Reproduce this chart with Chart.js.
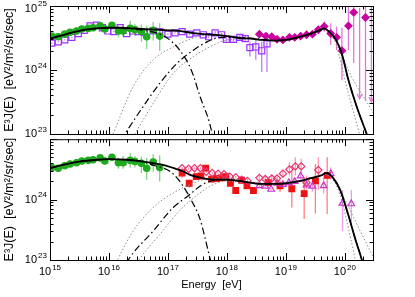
<!DOCTYPE html>
<html>
<head>
<meta charset="utf-8">
<script src="https://cdn.jsdelivr.net/npm/chart.js@4.4.1/dist/chart.umd.min.js"></script>
<style>
	html, body { margin: 0; padding: 0; background: #fff; }
	#wrap { position: relative; width: 415px; height: 297px; overflow: hidden; }
	#top { position: absolute; left: 0; top: 0; }
	#bot { position: absolute; left: 0; top: 134px; }
</style>
</head>
<body>
<div id="wrap">
	<canvas id="top" width="415" height="145"></canvas>
	<canvas id="bot" width="415" height="163"></canvas>
</div>
<script>
// all values are log10: energy in eV, flux as E^3 J(E)

// green circles (both panels)
var kgLogE = [15.03, 15.14, 15.25, 15.34, 15.45, 15.54, 15.65, 15.73, 15.85, 15.93, 16.05, 16.16, 16.24, 16.36, 16.44, 16.55, 16.64, 16.75, 16.86];
var kgLogF = [24.53, 24.52, 24.56, 24.59, 24.61, 24.64, 24.65, 24.66, 24.69, 24.64, 24.70, 24.61, 24.61, 24.65, 24.63, 24.60, 24.52, 24.62, 24.53];
var kgLo = [24.52, 24.51, 24.55, 24.58, 24.60, 24.63, 24.64, 24.65, 24.67, 24.62, 24.67, 24.51, 24.51, 24.53, 24.53, 24.44, 24.33, 24.46, 24.30];
var kgHi = [24.54, 24.53, 24.57, 24.60, 24.62, 24.65, 24.66, 24.67, 24.71, 24.66, 24.73, 24.69, 24.72, 24.77, 24.72, 24.71, 24.69, 24.75, 24.73];

// purple open squares (top)
var psLogE = [15.03, 15.14, 15.25, 15.37, 15.48, 15.58, 15.68, 15.79, 15.89, 15.98, 16.08, 16.19, 16.30, 16.40, 16.50, 16.60, 16.75, 16.86, 17.00, 17.12, 17.24, 17.37, 17.49, 17.60, 17.69, 17.80, 17.91, 17.99, 18.11, 18.22, 18.31, 18.39, 18.49, 18.59, 18.68];
var psLogF = [24.42, 24.44, 24.47, 24.51, 24.57, 24.62, 24.69, 24.70, 24.66, 24.61, 24.60, 24.66, 24.57, 24.61, 24.60, 24.59, 24.61, 24.60, 24.56, 24.58, 24.60, 24.56, 24.58, 24.55, 24.52, 24.58, 24.55, 24.48, 24.48, 24.51, 24.49, 24.35, 24.36, 24.30, 24.41];
var psLo = [24.41, 24.43, 24.46, 24.50, 24.56, 24.61, 24.68, 24.69, 24.65, 24.60, 24.59, 24.65, 24.56, 24.60, 24.59, 24.58, 24.60, 24.59, 24.55, 24.57, 24.59, 24.55, 24.57, 24.53, 24.50, 24.55, 24.52, 24.44, 24.44, 24.46, 24.44, 24.21, 24.16, 23.97, 23.97];
var psHi = [24.43, 24.45, 24.48, 24.52, 24.58, 24.63, 24.70, 24.71, 24.67, 24.62, 24.61, 24.67, 24.58, 24.62, 24.61, 24.60, 24.62, 24.61, 24.57, 24.59, 24.61, 24.57, 24.59, 24.57, 24.54, 24.61, 24.58, 24.52, 24.52, 24.56, 24.54, 24.44, 24.47, 24.44, 24.58];

// magenta filled diamonds (top)
var auLogE = [18.55, 18.66, 18.76, 18.85, 18.95, 19.06, 19.15, 19.25, 19.35, 19.45, 19.55, 19.65, 19.76, 19.86, 19.95, 20.06, 20.15, 20.35];
var auLogF = [24.56, 24.53, 24.52, 24.48, 24.47, 24.51, 24.51, 24.53, 24.55, 24.56, 24.63, 24.68, 24.57, 24.51, 24.30, 24.69, 24.90, 24.82];
var auLo = [24.53, 24.50, 24.50, 24.46, 24.45, 24.49, 24.49, 24.51, 24.52, 24.53, 24.58, 24.60, 24.39, 24.31, 23.84, 24.31, 24.11, 23.53];
var auHi = [24.59, 24.56, 24.54, 24.50, 24.49, 24.53, 24.53, 24.55, 24.58, 24.60, 24.68, 24.76, 24.73, 24.68, 24.66, 24.99, 25.10, 24.99];
// upper limits (arrow tips)
var auLimE = [20.25, 20.45];
var auLimF = [23.55, 23.50];
var auLimTop = [24.97, 25.10];

// red filled squares (bottom)
var rdLogE = [17.24, 17.36, 17.48, 17.56, 17.64, 17.74, 17.83, 17.91, 17.98, 18.06, 18.15, 18.25, 18.34, 18.45, 18.70, 18.90, 19.10, 19.31, 19.50, 19.70];
var rdLogF = [24.44, 24.27, 24.38, 24.39, 24.52, 24.34, 24.35, 24.36, 24.38, 24.27, 24.15, 24.32, 24.23, 24.15, 24.28, 24.23, 24.18, 24.10, 24.31, 24.40];
var rdLo = [24.36, 24.20, 24.34, 24.35, 24.48, 24.31, 24.32, 24.33, 24.35, 24.23, 24.09, 24.28, 24.19, 24.10, 24.22, 24.12, 23.87, 23.68, 23.77, 23.76];
var rdHi = [24.52, 24.33, 24.42, 24.43, 24.56, 24.37, 24.38, 24.39, 24.41, 24.31, 24.21, 24.36, 24.27, 24.20, 24.34, 24.32, 24.46, 24.38, 24.59, 24.70];

// pink open diamonds (bottom)
var hrLogE = [17.24, 17.35, 17.45, 17.55, 17.65, 17.75, 17.85, 17.95, 18.05, 18.15, 18.25, 18.35, 18.55, 18.65, 18.76, 18.85, 18.95, 19.06, 19.16, 19.26, 19.35, 19.55];
var hrLogF = [24.52, 24.51, 24.52, 24.52, 24.46, 24.44, 24.43, 24.42, 24.38, 24.37, 24.33, 24.31, 24.36, 24.34, 24.35, 24.35, 24.43, 24.50, 24.55, 24.55, 24.28, 24.49];
var hrLo = [24.50, 24.49, 24.50, 24.50, 24.44, 24.42, 24.41, 24.40, 24.36, 24.35, 24.31, 24.28, 24.32, 24.30, 24.30, 24.29, 24.36, 24.40, 24.40, 24.42, 24.18, 24.16];
var hrHi = [24.54, 24.53, 24.54, 24.54, 24.48, 24.46, 24.45, 24.44, 24.40, 24.39, 24.35, 24.34, 24.40, 24.38, 24.40, 24.41, 24.50, 24.62, 24.70, 24.68, 24.40, 24.70];

// magenta open triangles (bottom)
var taLogE = [18.55, 18.65, 18.75, 18.85, 18.95, 19.05, 19.15, 19.25, 19.35, 19.45, 19.64, 19.76, 19.96, 20.11];
var taLogF = [24.23, 24.22, 24.17, 24.27, 24.25, 24.28, 24.30, 24.39, 24.24, 24.22, 24.23, 24.43, 23.94, 23.93];
var taLo = [24.21, 24.20, 24.15, 24.24, 24.22, 24.25, 24.26, 24.33, 24.17, 24.13, 24.10, 24.33, 23.48, 23.63];
var taHi = [24.25, 24.24, 24.19, 24.30, 24.28, 24.31, 24.34, 24.45, 24.31, 24.31, 24.36, 24.53, 24.16, 24.16];

// model curves, top panel
var tTotE = [15.0, 15.2, 15.4, 15.6, 15.8, 16.0, 16.2, 16.4, 16.6, 16.8, 17.0, 17.2, 17.4, 17.6, 17.8, 18.0, 18.2, 18.4, 18.6, 18.8, 19.0, 19.2, 19.4, 19.55, 19.65, 19.75, 19.85, 19.95, 20.05, 20.2, 20.37, 20.48];
var tTotF = [24.49, 24.54, 24.59, 24.63, 24.65, 24.66, 24.66, 24.65, 24.64, 24.63, 24.62, 24.61, 24.58, 24.56, 24.55, 24.53, 24.50, 24.49, 24.47, 24.46, 24.47, 24.51, 24.56, 24.61, 24.65, 24.58, 24.47, 24.25, 23.88, 23.43, 23.0, 22.7];
var tGalE = [15.0, 15.2, 15.4, 15.6, 15.8, 16.0, 16.2, 16.4, 16.6, 16.8, 17.0, 17.2, 17.4, 17.55, 17.7, 17.8];
var tGalF = [24.49, 24.54, 24.59, 24.63, 24.65, 24.66, 24.65, 24.64, 24.62, 24.58, 24.49, 24.31, 23.99, 23.57, 23.19, 22.8];
var tExgE = [16.2, 16.27, 16.58, 16.86, 17.15, 17.43, 17.66, 17.9, 18.2, 18.4, 18.6, 18.8, 19.0, 19.2, 19.4, 19.55, 19.65, 19.75, 19.85, 19.95, 20.05, 20.2, 20.37, 20.48];
var tExgF = [22.9, 23.0, 23.43, 23.79, 24.10, 24.31, 24.44, 24.51, 24.51, 24.50, 24.48, 24.46, 24.47, 24.51, 24.56, 24.61, 24.65, 24.58, 24.47, 24.25, 23.88, 23.43, 23.0, 22.7];
var tDotAE = [16.0, 16.07, 16.41, 16.75, 17.09, 17.43, 17.66, 18.0, 18.4, 18.8, 19.2, 19.5, 19.65, 19.75, 19.85, 20.03, 20.23, 20.3];
var tDotAF = [22.85, 23.0, 23.74, 24.16, 24.36, 24.50, 24.55, 24.53, 24.49, 24.46, 24.51, 24.59, 24.64, 24.57, 24.40, 23.74, 23.06, 22.8];
var tDotBE = [16.35, 16.44, 16.75, 17.09, 17.43, 17.71, 18.0, 18.4, 18.8, 19.2, 19.5, 19.65, 19.75, 19.85, 20.11, 20.45, 20.48];
var tDotBF = [22.85, 23.0, 23.48, 23.95, 24.21, 24.36, 24.47, 24.49, 24.46, 24.51, 24.59, 24.64, 24.58, 24.44, 23.90, 23.38, 23.33];

// model curves, bottom panel
var bTotE = [15.0, 15.2, 15.5, 15.8, 16.0, 16.3, 16.5, 16.7, 16.9, 17.1, 17.25, 17.4, 17.6, 17.8, 18.0, 18.2, 18.4, 18.6, 18.8, 19.0, 19.2, 19.4, 19.6, 19.69, 19.8, 19.92, 20.06, 20.17, 20.28, 20.35];
var bTotF = [24.52, 24.57, 24.63, 24.66, 24.67, 24.66, 24.64, 24.61, 24.58, 24.52, 24.47, 24.40, 24.35, 24.33, 24.33, 24.31, 24.28, 24.26, 24.26, 24.27, 24.30, 24.35, 24.40, 24.44, 24.36, 24.16, 23.74, 23.37, 23.03, 22.8];
var bGalE = [15.0, 15.2, 15.5, 15.8, 16.0, 16.3, 16.5, 16.78, 17.06, 17.26, 17.40, 17.54, 17.71, 17.8];
var bGalF = [24.52, 24.57, 24.63, 24.66, 24.67, 24.66, 24.64, 24.56, 24.45, 24.22, 23.98, 23.69, 23.04, 22.7];
var bExgE = [16.3, 16.36, 16.75, 17.09, 17.34, 17.57, 17.74, 17.97, 18.2, 18.4, 18.6, 18.8, 19.0, 19.2, 19.4, 19.6, 19.69, 19.8, 19.92, 20.06, 20.17, 20.28, 20.35];
var bExgF = [22.95, 23.05, 23.48, 23.87, 24.06, 24.24, 24.31, 24.33, 24.31, 24.28, 24.26, 24.26, 24.27, 24.30, 24.35, 24.40, 24.44, 24.36, 24.16, 23.74, 23.37, 23.03, 22.8];
var bDotAE = [16.1, 16.16, 16.41, 16.75, 17.09, 17.43, 17.71, 18.0, 18.4, 18.8, 19.2, 19.6, 19.69, 19.85, 19.97, 20.1, 20.17, 20.22];
var bDotAF = [22.9, 23.03, 23.48, 23.87, 24.11, 24.27, 24.35, 24.35, 24.29, 24.27, 24.31, 24.41, 24.43, 24.25, 23.90, 23.35, 23.03, 22.8];
var bDotBE = [16.45, 16.53, 16.86, 17.20, 17.54, 17.71, 18.0, 18.4, 18.8, 19.2, 19.6, 19.69, 19.85, 20.0, 20.2, 20.48];
var bDotBF = [22.9, 23.03, 23.42, 23.82, 24.11, 24.22, 24.31, 24.28, 24.25, 24.29, 24.39, 24.42, 24.25, 24.00, 23.60, 23.05];

var FONT = '"Liberation Sans", Arial, Helvetica, sans-serif';

function pts(logE, logF) {
	return logE.map(function (e, i) {
		return { x: Math.pow(10, e), y: Math.pow(10, logF[i]) };
	});
}

function curve(logE, logF, color, width, dash) {
	return {
		data: pts(logE, logF),
		borderColor: color,
		borderWidth: width,
		borderDash: dash || [],
		pointRadius: 0,
		cubicInterpolationMode: 'monotone',
		fill: false,
		order: 0
	};
}

function marks(logE, logF, lo, hi, style, radius, fillCol, lineCol, errCol) {
	return {
		data: pts(logE, logF),
		showLine: false,
		pointStyle: style,
		pointRadius: radius,
		pointBackgroundColor: fillCol,
		pointBorderColor: lineCol,
		pointBorderWidth: 1.2,
		errLo: lo,
		errHi: hi,
		errColor: errCol,
		order: 1
	};
}

// vertical error bars, drawn under the markers
var errorBars = {
	id: 'errorBars',
	beforeDatasetsDraw: function (chart) {
		var ctx = chart.ctx, a = chart.chartArea;
		var xs = chart.scales.x, ys = chart.scales.y;
		ctx.save();
		ctx.beginPath();
		ctx.rect(a.left, a.top, a.right - a.left, a.bottom - a.top);
		ctx.clip();
		chart.data.datasets.forEach(function (ds) {
			if (!ds.errLo) return;
			ctx.strokeStyle = ds.errColor;
			ctx.lineWidth = 1.3;
			ds.data.forEach(function (p, i) {
				var x = xs.getPixelForValue(p.x);
				var y1 = ys.getPixelForValue(Math.pow(10, ds.errLo[i]));
				var y2 = ys.getPixelForValue(Math.pow(10, ds.errHi[i]));
				ctx.beginPath();
				ctx.moveTo(x, y1);
				ctx.lineTo(x, y2);
				if (ds.arrow) {
					ctx.moveTo(x - 2.5, y1 - 5);
					ctx.lineTo(x, y1);
					ctx.lineTo(x + 2.5, y1 - 5);
				}
				ctx.stroke();
			});
		});
		ctx.restore();
	}
};

function powLabel(ctx, x, y, exp, align) {
	ctx.font = '11px ' + FONT;
	var w1 = ctx.measureText('10').width;
	ctx.font = '8px ' + FONT;
	var w2 = ctx.measureText(String(exp)).width;
	var x0 = align === 'right' ? x - w1 - w2 - 1 : x - (w1 + w2 + 1) / 2;
	ctx.textAlign = 'left';
	ctx.textBaseline = 'middle';
	ctx.font = '11px ' + FONT;
	ctx.fillText('10', x0, y);
	ctx.font = '8px ' + FONT;
	ctx.fillText(String(exp), x0 + w1 + 1, y - 4.5);
}

// box, inward ticks on all four sides, power-of-ten labels
var frame = {
	id: 'frame',
	afterDraw: function (chart, args, opts) {
		var ctx = chart.ctx, a = chart.chartArea;
		var xs = chart.scales.x, ys = chart.scales.y;
		var d, m, v, p, len;
		ctx.save();
		ctx.strokeStyle = '#000';
		ctx.lineWidth = 1;
		ctx.strokeRect(a.left + 0.5, a.top + 0.5, a.right - a.left, a.bottom - a.top);
		ctx.beginPath();
		for (d = 15; d <= 20; d++) {
			for (m = 1; m <= 9; m++) {
				v = m * Math.pow(10, d);
				if (v > xs.max * 1.001) break;
				p = Math.round(xs.getPixelForValue(v)) + 0.5;
				len = m === 1 ? 7 : 3.5;
				ctx.moveTo(p, a.bottom);
				ctx.lineTo(p, a.bottom - len);
				ctx.moveTo(p, a.top);
				ctx.lineTo(p, a.top + len);
			}
		}
		for (d = 23; d <= 25; d++) {
			for (m = 1; m <= 9; m++) {
				v = m * Math.pow(10, d);
				if (v > ys.max * 1.001) break;
				p = Math.round(ys.getPixelForValue(v)) + 0.5;
				len = m === 1 ? 7 : 3.5;
				ctx.moveTo(a.left, p);
				ctx.lineTo(a.left + len, p);
				ctx.moveTo(a.right, p);
				ctx.lineTo(a.right - len, p);
			}
		}
		ctx.stroke();

		ctx.fillStyle = '#000';
		opts.yLabels.forEach(function (e) {
			var y = ys.getPixelForValue(Math.pow(10, e));
			y = Math.min(Math.max(y, a.top + 2.5), a.bottom + 0.5);
			powLabel(ctx, a.left - 3, y, e, 'right');
		});
		opts.xLabels.forEach(function (e) {
			powLabel(ctx, xs.getPixelForValue(Math.pow(10, e)), a.bottom + 12, e, 'center');
		});
		ctx.restore();
	}
};

function yAxis() {
	return {
		type: 'logarithmic',
		min: 1e23,
		max: 1e25,
		position: 'left',
		ticks: { display: false },
		grid: { display: false },
		border: { display: false },
		title: {
			display: true,
			text: 'E\u00B3J(E)  [eV\u00B2/m\u00B2/sr/sec]',
			color: '#000',
			font: { family: FONT, size: 12.5 },
			padding: { top: 2, bottom: 0 }
		},
		afterFit: function (s) { s.width = 50; }
	};
}

function start() {
	var topSets = [
		curve(tTotE, tTotF, '#000', 1.8),
		curve(tGalE, tGalF, '#000', 1.2, [7, 3, 1.5, 3]),
		curve(tExgE, tExgF, '#000', 1.2, [7, 3, 1.5, 3]),
		curve(tDotAE, tDotAF, '#8c8c8c', 1, [1.5, 2]),
		curve(tDotBE, tDotBF, '#8c8c8c', 1, [1.5, 2]),
		marks(kgLogE, kgLogF, kgLo, kgHi, 'circle', 3.2, '#1faa1f', '#1faa1f', '#7fd67f'),
		marks(psLogE, psLogF, psLo, psHi, 'rect', 4.3, 'rgba(0,0,0,0)', '#9b30ff', '#c07cff'),
		marks(auLogE, auLogF, auLo, auHi, 'rectRot', 3.6, '#c8009e', '#c8009e', '#e07ad8'),
		{
			data: pts(auLimE, auLimF),
			showLine: false,
			pointRadius: 0,
			errLo: auLimF,
			errHi: auLimTop,
			errColor: '#e07ad8',
			arrow: true,
			order: 1
		}
	];

	var botSets = [
		curve(bTotE, bTotF, '#000', 1.8),
		curve(bGalE, bGalF, '#000', 1.2, [7, 3, 1.5, 3]),
		curve(bExgE, bExgF, '#000', 1.2, [7, 3, 1.5, 3]),
		curve(bDotAE, bDotAF, '#8c8c8c', 1, [1.5, 2]),
		curve(bDotBE, bDotBF, '#8c8c8c', 1, [1.5, 2]),
		marks(kgLogE, kgLogF, kgLo, kgHi, 'circle', 3.2, '#1faa1f', '#1faa1f', '#7fd67f'),
		marks(hrLogE, hrLogF, hrLo, hrHi, 'rectRot', 3.6, 'rgba(0,0,0,0)', '#e8336d', '#ff99b8'),
		marks(taLogE, taLogF, taLo, taHi, 'triangle', 3.8, 'rgba(0,0,0,0)', '#cc33cc', '#e8a0e8'),
		marks(rdLogE, rdLogF, rdLo, rdHi, 'rect', 4, '#ee1111', '#ee1111', '#ff8080')
	];

	new Chart(document.getElementById('top').getContext('2d'), {
		type: 'line',
		data: { datasets: topSets },
		options: {
			responsive: false,
			animation: false,
			layout: { padding: { left: 0, right: 42, top: 6, bottom: 11 } },
			plugins: {
				legend: { display: false },
				tooltip: { enabled: false },
				frame: { yLabels: [25, 24, 23], xLabels: [] }
			},
			scales: {
				x: { type: 'logarithmic', min: 1e15, max: 3e20, display: false },
				y: yAxis()
			}
		},
		plugins: [errorBars, frame]
	});

	new Chart(document.getElementById('bot').getContext('2d'), {
		type: 'line',
		data: { datasets: botSets },
		options: {
			responsive: false,
			animation: false,
			layout: { padding: { left: 0, right: 42, top: 0, bottom: 0 } },
			plugins: {
				legend: { display: false },
				tooltip: { enabled: false },
				frame: { yLabels: [24, 23], xLabels: [15, 16, 17, 18, 19, 20] }
			},
			scales: {
				x: {
					type: 'logarithmic',
					min: 1e15,
					max: 3e20,
					position: 'bottom',
					ticks: { display: false },
					grid: { display: false },
					border: { display: false },
					title: {
						display: true,
						text: 'Energy  [eV]',
						color: '#000',
						font: { family: FONT, size: 11 },
						padding: { top: 0, bottom: 5.5 }
					},
					afterFit: function (s) { s.height = 37; }
				},
				y: yAxis()
			}
		},
		plugins: [errorBars, frame]
	});
}

window.onload = start;
</script>
</body>
</html>
